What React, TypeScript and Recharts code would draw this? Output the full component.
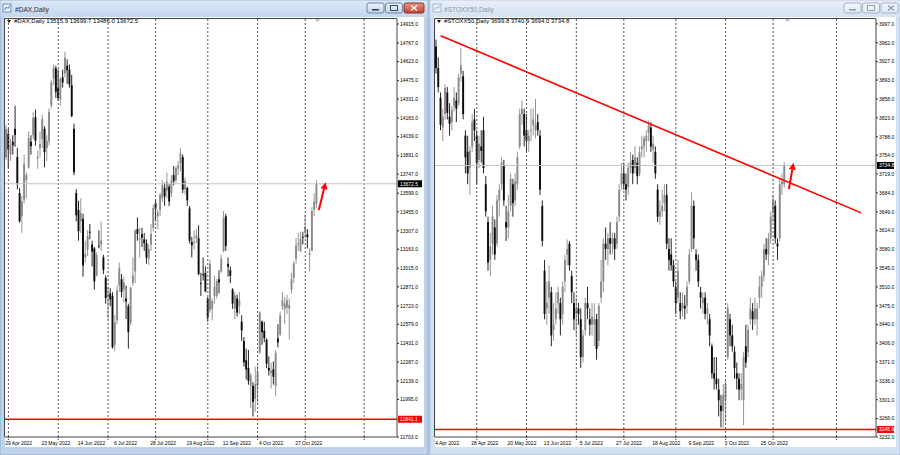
import React from 'react';
import { ComposedChart, Bar, XAxis, YAxis, ReferenceLine } from 'recharts';

const FONT = "'Liberation Sans', Arial, sans-serif";

// #DAX daily bars 29 Apr 2022 .. 8 Nov 2022, [open, high, low, close]
const daxBars: number[][] = [
  [13880, 14130, 13860, 14098],
  // May
  [14060, 14100, 13790, 13939], [13900, 14020, 13850, 13970], [14000, 14050, 13900, 13971], [14100, 14280, 13960, 14052],
  [13880, 13950, 13630, 13674], [13600, 13640, 13370, 13381], [13420, 13580, 13290, 13535], [13550, 13900, 13520, 13829],
  [13700, 13760, 13560, 13740], [13800, 14080, 13790, 14027], [14000, 14050, 13900, 13964], [14050, 14230, 14020, 14186],
  [14190, 14250, 13970, 14008], [13870, 13930, 13790, 13882], [13950, 14080, 13880, 13982], [14020, 14210, 13950, 14176],
  [14100, 14120, 13800, 13919], [13950, 14050, 13850, 14008], [14000, 14260, 13970, 14232], [14280, 14480, 14260, 14462],
  [14490, 14600, 14440, 14575], [14570, 14590, 14340, 14388],
  // Jun
  [14420, 14560, 14320, 14340], [14330, 14500, 14280, 14485], [14500, 14560, 14420, 14460], [14530, 14700, 14500, 14653],
  [14590, 14640, 14450, 14556], [14560, 14600, 14420, 14445], [14440, 14520, 14190, 14199], [14100, 14140, 13740, 13762],
  [13600, 13630, 13380, 13427], [13470, 13540, 13230, 13304], [13380, 13560, 13290, 13447], [13400, 13440, 12950, 13038],
  [13100, 13230, 13060, 13127], [13160, 13310, 13110, 13265], [13300, 13360, 13240, 13292], [13200, 13230, 13030, 13145],
  [13170, 13180, 12850, 12913], [12960, 13140, 12950, 13118], [13190, 13310, 13170, 13186], [13200, 13380, 13150, 13231],
  [13100, 13120, 12970, 13003], [12940, 12960, 12740, 12784],
  // Jul
  [12800, 12870, 12620, 12813], [12820, 12860, 12720, 12773], [12800, 12830, 12390, 12401], [12420, 12650, 12370, 12595],
  [12610, 12880, 12580, 12843], [12880, 13060, 12830, 13015], [12930, 12970, 12790, 12832], [12850, 12950, 12750, 12905],
  [12780, 12880, 12620, 12757], [12720, 12740, 12390, 12520], [12590, 12870, 12570, 12865], [12900, 13100, 12880, 12959],
  [12990, 13320, 12900, 13308], [13320, 13410, 13230, 13282], [13240, 13330, 13100, 13247], [13280, 13330, 13180, 13254],
  [13240, 13290, 13150, 13210], [13210, 13240, 13050, 13097], [13090, 13200, 13040, 13166], [13200, 13360, 13150, 13282],
  [13330, 13510, 13300, 13484],
  // Aug
  [13520, 13550, 13380, 13479], [13420, 13470, 13320, 13449], [13470, 13600, 13420, 13587], [13560, 13700, 13530, 13662],
  [13640, 13680, 13500, 13574], [13620, 13760, 13560, 13688], [13650, 13670, 13500, 13535], [13600, 13740, 13570, 13700],
  [13740, 13810, 13660, 13695], [13700, 13810, 13680, 13795], [13790, 13850, 13740, 13816], [13830, 13950, 13770, 13910],
  [13880, 13900, 13600, 13627], [13630, 13720, 13590, 13697], [13640, 13650, 13500, 13544], [13480, 13500, 13210, 13230],
  [13220, 13260, 13100, 13194], [13220, 13310, 13160, 13221], [13250, 13320, 13210, 13272], [13250, 13350, 12960, 12971],
  [12900, 12980, 12800, 12893], [12970, 13100, 12920, 12961], [12980, 13030, 12830, 12835],
  // Sep
  [12780, 12790, 12600, 12631], [12690, 13080, 12670, 13050], [12700, 12780, 12610, 12761], [12800, 12960, 12740, 12872],
  [12800, 12930, 12780, 12916], [12930, 13000, 12820, 12905], [12990, 13120, 12980, 13088], [13150, 13460, 13140, 13403],
  [13420, 13440, 13150, 13189], [13050, 13100, 12950, 13028], [13000, 13030, 12900, 12957], [12850, 12860, 12700, 12741],
  [12700, 12830, 12620, 12804], [12780, 12810, 12640, 12671], [12720, 12830, 12660, 12767], [12600, 12650, 12450, 12532],
  [12450, 12480, 12250, 12284], [12300, 12390, 12150, 12228], [12240, 12380, 12110, 12140], [12100, 12200, 11930, 12184],
  [12100, 12130, 11862, 11976], [12000, 12250, 11900, 12114],
  // Oct
  [12100, 12260, 11970, 12209], [12360, 12680, 12350, 12671], [12600, 12610, 12420, 12517], [12530, 12600, 12440, 12471],
  [12460, 12470, 12240, 12273], [12240, 12330, 12180, 12220], [12200, 12280, 12080, 12219], [12230, 12290, 12110, 12172],
  [12100, 12380, 12020, 12356], [12470, 12580, 12400, 12438], [12500, 12680, 12490, 12649], [12720, 12830, 12690, 12765],
  [12700, 12790, 12580, 12742], [12710, 12810, 12660, 12767], [12700, 12780, 12460, 12731], [12850, 12980, 12820, 12931],
  [12940, 13070, 12900, 13053], [13090, 13250, 13050, 13195], [13200, 13290, 13150, 13211], [13150, 13300, 13140, 13243],
  [13260, 13300, 13200, 13254],
  // Nov
  [13300, 13430, 13250, 13338], [13280, 13320, 13170, 13257], [13120, 13170, 12990, 13130], [13150, 13490, 13150, 13460],
  [13470, 13600, 13420, 13533], [13515.9, 13699.7, 13486.0, 13672.5],
];
const daxSlots = 173;
const daxDateLabels = ['29 Apr 2022', '23 May 2022', '14 Jun 2022', '6 Jul 2022', '28 Jul 2022', '19 Aug 2022', '12 Sep 2022', '4 Oct 2022', '27 Oct 2022'];
const daxSeparators = [1, 23, 45, 66, 89, 111, 132, 158];
const daxPriceTicks = [14915, 14767, 14623, 14475, 14331, 14183, 14039, 13891, 13747, 13599, 13455, 13307, 13163, 13015, 12871, 12723, 12579, 12431, 12287, 12139, 11995, 11703];
const daxDomain = [11703, 14954];
const daxLast = 13672.5;
const daxSupport = 11841.1;
const daxArrow = [{ x: 138, y: 13468 }, { x: 141, y: 13685 }];

// #STOXX50 daily bars 4 Apr 2022 .. 8 Nov 2022, [open, high, low, close]
const stoxxBars: number[][] = [
  // Apr
  [3955, 3968, 3905, 3915], [3915, 3935, 3870, 3880], [3860, 3870, 3800, 3810], [3805, 3840, 3780, 3825], [3830, 3885, 3820, 3878],
  [3870, 3880, 3820, 3832], [3825, 3850, 3790, 3812], [3815, 3845, 3800, 3838], [3845, 3880, 3835, 3860], [3855, 3870, 3815, 3840],
  [3850, 3905, 3845, 3898], [3905, 3952, 3890, 3920], [3900, 3910, 3820, 3830], [3790, 3800, 3720, 3750], [3760, 3790, 3700, 3720],
  [3730, 3770, 3680, 3762], [3770, 3830, 3760, 3815], [3820, 3840, 3780, 3800],
  // May
  [3790, 3800, 3700, 3740], [3745, 3790, 3730, 3775], [3770, 3800, 3740, 3762], [3800, 3825, 3720, 3730], [3700, 3715, 3640, 3650],
  [3630, 3640, 3540, 3555], [3560, 3610, 3530, 3585], [3590, 3660, 3570, 3640], [3620, 3635, 3560, 3570], [3590, 3680, 3585, 3670],
  [3670, 3700, 3640, 3690], [3700, 3750, 3690, 3740], [3735, 3745, 3660, 3670], [3630, 3660, 3595, 3620], [3620, 3680, 3600, 3650],
  [3660, 3720, 3650, 3710], [3700, 3710, 3640, 3665], [3670, 3720, 3660, 3705], [3700, 3760, 3690, 3750], [3770, 3840, 3765, 3830],
  [3830, 3855, 3810, 3840], [3830, 3840, 3770, 3790],
  // Jun
  [3800, 3830, 3760, 3780], [3780, 3800, 3760, 3790], [3800, 3840, 3780, 3800], [3810, 3840, 3790, 3820], [3800, 3858, 3785, 3810],
  [3815, 3830, 3790, 3800], [3790, 3800, 3680, 3690], [3660, 3670, 3585, 3595], [3540, 3560, 3450, 3460], [3470, 3520, 3440, 3480],
  [3490, 3550, 3460, 3520], [3500, 3510, 3400, 3420], [3430, 3480, 3410, 3440], [3450, 3500, 3440, 3470], [3480, 3510, 3460, 3500],
  [3480, 3490, 3420, 3450], [3460, 3520, 3440, 3510], [3520, 3570, 3500, 3560], [3570, 3598, 3550, 3580], [3590, 3595, 3540, 3550],
  [3530, 3540, 3480, 3500], [3480, 3500, 3430, 3450],
  // Jul
  [3460, 3490, 3420, 3470], [3470, 3480, 3440, 3460], [3450, 3470, 3360, 3380], [3380, 3430, 3370, 3420], [3430, 3490, 3420, 3480],
  [3480, 3510, 3450, 3470], [3450, 3470, 3420, 3440], [3440, 3480, 3420, 3455], [3440, 3480, 3400, 3450], [3450, 3460, 3375, 3395],
  [3410, 3480, 3400, 3475], [3490, 3560, 3480, 3520], [3520, 3600, 3500, 3590], [3590, 3620, 3560, 3580], [3580, 3610, 3550, 3600],
  [3600, 3630, 3570, 3590], [3590, 3610, 3570, 3600], [3600, 3610, 3560, 3580], [3590, 3640, 3580, 3630], [3640, 3700, 3630, 3690],
  [3700, 3740, 3690, 3720],
  // Aug
  [3720, 3740, 3690, 3700], [3700, 3720, 3670, 3690], [3695, 3740, 3680, 3730], [3730, 3760, 3720, 3740], [3745, 3755, 3700, 3720],
  [3730, 3770, 3720, 3750], [3740, 3750, 3700, 3715], [3720, 3770, 3715, 3760], [3765, 3790, 3750, 3770], [3770, 3790, 3750, 3785],
  [3780, 3800, 3760, 3790], [3795, 3818, 3780, 3810], [3805, 3815, 3760, 3770], [3765, 3790, 3740, 3775], [3760, 3770, 3710, 3720],
  [3690, 3700, 3630, 3640], [3640, 3670, 3625, 3650], [3650, 3690, 3640, 3660], [3665, 3700, 3650, 3680], [3680, 3700, 3580, 3590],
  [3580, 3600, 3540, 3560], [3570, 3600, 3540, 3550], [3550, 3560, 3510, 3520],
  // Sep
  [3510, 3520, 3460, 3480], [3490, 3560, 3480, 3540], [3480, 3500, 3450, 3465], [3470, 3500, 3455, 3480], [3475, 3495, 3450, 3470],
  [3475, 3520, 3460, 3510], [3520, 3580, 3515, 3570], [3580, 3685, 3575, 3660], [3660, 3670, 3580, 3600], [3570, 3580, 3540, 3560],
  [3560, 3570, 3510, 3520], [3500, 3510, 3470, 3490], [3480, 3500, 3460, 3490], [3490, 3500, 3450, 3460], [3460, 3480, 3440, 3470],
  [3450, 3460, 3400, 3420], [3400, 3405, 3340, 3350], [3350, 3380, 3320, 3340], [3340, 3380, 3320, 3330], [3320, 3340, 3270, 3300],
  [3290, 3310, 3250, 3280], [3280, 3330, 3249, 3310],
  // Oct
  [3300, 3340, 3260, 3330], [3380, 3480, 3375, 3470], [3450, 3460, 3400, 3420], [3420, 3440, 3390, 3400], [3390, 3400, 3340, 3360],
  [3350, 3370, 3320, 3340], [3340, 3350, 3300, 3320], [3320, 3350, 3300, 3330], [3300, 3390, 3254, 3380], [3400, 3440, 3360, 3370],
  [3390, 3440, 3380, 3430], [3450, 3490, 3440, 3470], [3465, 3480, 3430, 3450], [3450, 3490, 3440, 3470], [3450, 3480, 3420, 3470],
  [3490, 3530, 3470, 3510], [3510, 3540, 3490, 3530], [3530, 3590, 3520, 3580], [3580, 3600, 3560, 3570], [3570, 3610, 3550, 3600],
  [3600, 3650, 3590, 3640],
  // Nov
  [3650, 3680, 3630, 3670], [3660, 3670, 3590, 3600], [3590, 3600, 3560, 3585], [3600, 3710, 3595, 3700], [3700, 3720, 3680, 3705],
  [3699.8, 3740.9, 3694.0, 3734.8],
];
const stoxxSlots = 195;
const stoxxDateLabels = ['4 Apr 2022', '28 Apr 2022', '20 May 2022', '13 Jun 2022', '5 Jul 2022', '27 Jul 2022', '18 Aug 2022', '9 Sep 2022', '3 Oct 2022', '25 Oct 2022'];
const stoxxSeparators = [18, 40, 62, 83, 106, 128, 149, 177];
const stoxxPriceTicks = [3997, 3962, 3927, 3893, 3858, 3823, 3788, 3754, 3719, 3684, 3649, 3614, 3580, 3545, 3510, 3475, 3440, 3406, 3371, 3336, 3301, 3266, 3232];
const stoxxDomain = [3232, 4006];
const stoxxLast = 3734.8;
const stoxxSupport = 3245.9;
const stoxxTrend = [{ x: 2, y: 3975 }, { x: 188, y: 3647 }];
const stoxxArrow = [{ x: 156, y: 3691 }, { x: 158, y: 3740 }];

const LABEL_EVERY = 16;

const toRows = (bars: number[][], slots: number) =>
  Array.from({ length: slots }, (_, i) => {
    const b = bars[i];
    return b ? { i, o: b[0], h: b[1], l: b[2], c: b[3] } : { i };
  });

const Candle = (props: any) => {
  const { x, y, width, height, payload } = props;
  if (!payload || payload.h == null || !(height > 0)) return <g />;
  const { o, h, l, c } = payload;
  const k = height / (h - l);
  const cx = x + width / 2;
  const top = y + (h - Math.max(o, c)) * k;
  const bh = Math.max(Math.abs(o - c) * k, 0.8);
  const col = c >= o ? '#8a8a8a' : '#0c0c0c';
  return (
    <g>
      <line x1={cx} x2={cx} y1={y} y2={y + height} stroke={col} strokeWidth={0.9} />
      <rect x={cx - 0.95} y={top} width={1.9} height={bh} fill={col} />
    </g>
  );
};

const PriceTag = (props: any) => {
  const { viewBox, text, bg } = props;
  if (!viewBox) return null;
  const x = viewBox.x + viewBox.width + 1;
  const y = viewBox.y;
  return (
    <g>
      <rect x={x} y={y - 3.5} width={props.w} height={7} fill={bg} />
      <text x={x + 2} y={y + 2} fontSize={5} fontFamily={FONT} fill="#fff">{text}</text>
    </g>
  );
};

const Arrow = (p: any) => {
  const { x1, y1, x2, y2 } = p;
  const a = Math.atan2(y2 - y1, x2 - x1);
  const bx = x2 - 7 * Math.cos(a);
  const by = y2 - 7 * Math.sin(a);
  const nx = -Math.sin(a) * 3.5;
  const ny = Math.cos(a) * 3.5;
  return (
    <g>
      <line x1={x1} y1={y1} x2={bx} y2={by} stroke="#ff0000" strokeWidth={2} />
      <polygon points={`${x2},${y2} ${bx + nx},${by + ny} ${bx - nx},${by - ny}`} fill="#ff0000" />
    </g>
  );
};

const dateTick = (labels: string[], seps: number[]) => (p: any) => {
  const i = Number(p.payload.value);
  const label = i % LABEL_EVERY === 0 ? labels[i / LABEL_EVERY] : undefined;
  const sep = seps.includes(i);
  if (!label && !sep) return <g />;
  return (
    <g>
      {sep && <line x1={p.x} x2={p.x} y1={p.y} y2={p.y + 4} stroke="#333" strokeDasharray="1 1" />}
      {label && (
        <text x={p.x - 1} y={p.y + 8} fontSize={5} fontFamily={FONT} fill="#000">{label}</text>
      )}
    </g>
  );
};

type PanelProps = {
  bars: number[][];
  slots: number;
  labels: string[];
  seps: number[];
  ticks: number[];
  domain: number[];
  last: number;
  support: number;
  arrow: { x: number; y: number }[];
  trend?: { x: number; y: number }[];
  width: number;
  axisWidth: number;
  digits: number;
};

const Panel = (p: PanelProps) => {
  const rows = toRows(p.bars, p.slots);
  const tagW = p.axisWidth - 3;
  return (
    <ComposedChart width={p.width} height={447} data={rows} barCategoryGap={0} barGap={0}
      margin={{ top: 19, right: 0, bottom: 0, left: 5 }}>
      <XAxis dataKey="i" type="category" interval={0} height={10} tickSize={0} tickMargin={0}
        tickLine={false} axisLine={{ stroke: '#444' }} tick={dateTick(p.labels, p.seps)} />
      <YAxis orientation="right" type="number" domain={p.domain} allowDataOverflow ticks={p.ticks}
        interval={0} width={p.axisWidth} tickSize={2} tickMargin={1}
        axisLine={{ stroke: '#444' }} tickLine={{ stroke: '#333' }}
        tick={{ fontSize: 5, fill: '#000', fontFamily: FONT }}
        tickFormatter={(v: number) => v.toFixed(1)} />
      {p.seps.map((s) => (
        <ReferenceLine key={s} x={s} stroke="#555" strokeDasharray="2 2" />
      ))}
      <ReferenceLine y={p.last} stroke="#c4c4c4"
        label={<PriceTag text={p.last.toFixed(p.digits)} bg="#000" w={tagW} />} />
      <Bar dataKey={(d: any) => (d.h != null ? [d.l, d.h] : null)} shape={<Candle />} isAnimationActive={false} />
      <ReferenceLine y={p.support} stroke="#ff0000" strokeWidth={1.6}
        label={<PriceTag text={p.support.toFixed(1)} bg="#ff0000" w={tagW} />} />
      {p.trend && (
        <ReferenceLine segment={p.trend} stroke="#ff0000" strokeWidth={1.6} ifOverflow="visible" />
      )}
      <ReferenceLine segment={p.arrow} ifOverflow="visible" shape={Arrow} />
    </ComposedChart>
  );
};

const TitleButtons = ({ x, active }: { x: number; active: boolean }) => {
  const fill = active ? 'url(#btnA)' : 'url(#btnI)';
  const glyph = active ? '#2b3e5b' : '#8a9ab0';
  return (
    <g>
      <rect x={x} y={3} width={17} height={10} rx={2} fill={fill} stroke={active ? '#6f86a8' : '#a3b3c8'} />
      <rect x={x + 5} y={9} width={7} height={1.5} fill={glyph} />
      <rect x={x + 18.5} y={3} width={17} height={10} rx={2} fill={fill} stroke={active ? '#6f86a8' : '#a3b3c8'} />
      <rect x={x + 23.5} y={5.5} width={7} height={5} fill="none" stroke={glyph} strokeWidth={0.9} />
      <rect x={x + 37} y={3} width={active ? 20 : 17} height={10} rx={2} fill={active ? 'url(#btnClose)' : fill}
        stroke={active ? '#8a3023' : '#a3b3c8'} />
      <path d={`M${x + 44} 5.5 L${x + 50} 10.5 M${x + 50} 5.5 L${x + 44} 10.5`}
        stroke={active ? '#fff' : glyph} strokeWidth={1.3} />
    </g>
  );
};

const Chrome = () => (
  <svg width={900} height={455} style={{ position: 'absolute', left: 0, top: 0 }}>
    <defs>
      <linearGradient id="titleA" x1="0" y1="0" x2="0" y2="1">
        <stop offset="0%" stopColor="#dce8f6" />
        <stop offset="100%" stopColor="#c3d6ee" />
      </linearGradient>
      <linearGradient id="titleI" x1="0" y1="0" x2="0" y2="1">
        <stop offset="0%" stopColor="#e8eff8" />
        <stop offset="100%" stopColor="#d6e2f1" />
      </linearGradient>
      <linearGradient id="btnA" x1="0" y1="0" x2="0" y2="1">
        <stop offset="0%" stopColor="#eef3fa" />
        <stop offset="100%" stopColor="#c2d2e8" />
      </linearGradient>
      <linearGradient id="btnI" x1="0" y1="0" x2="0" y2="1">
        <stop offset="0%" stopColor="#f4f7fb" />
        <stop offset="100%" stopColor="#dfe7f1" />
      </linearGradient>
      <linearGradient id="btnClose" x1="0" y1="0" x2="0" y2="1">
        <stop offset="0%" stopColor="#e4998c" />
        <stop offset="100%" stopColor="#c2412f" />
      </linearGradient>
    </defs>
    <rect x={0} y={0} width={900} height={455} fill="#c5d8ee" />
    <rect x={0} y={0} width={428} height={455} fill="#bfd3ec" stroke="#8ea7c8" />
    <rect x={430} y={0} width={470} height={455} fill="#d3e1f2" stroke="#a7bad3" />
    <rect x={0.5} y={0.5} width={427} height={17} fill="url(#titleA)" />
    <rect x={430.5} y={0.5} width={469} height={17} fill="url(#titleI)" />
    <rect x={5} y={17} width={419} height={430} fill="#fff" />
    <rect x={435} y={17} width={461} height={430} fill="#fff" />
    <line x1={4.5} y1={18.5} x2={397} y2={18.5} stroke="#444" />
    <line x1={4.5} y1={18.5} x2={4.5} y2={437} stroke="#444" />
    <line x1={434.5} y1={18.5} x2={876} y2={18.5} stroke="#444" />
    <line x1={434.5} y1={18.5} x2={434.5} y2={437} stroke="#444" />

    <rect x={3} y={4} width={8} height={8} fill="#e9f1fb" stroke="#4f79b0" strokeWidth={0.8} />
    <path d="M4.5 10 L6.5 7 L8 8.5 L10 5.5" stroke="#2f6bb5" strokeWidth={0.9} fill="none" />
    <text x={15} y={11.5} fontSize={6.6} fontFamily={FONT} fill="#1e2f48">#DAX,Daily</text>
    <TitleButtons x={367} active />

    <rect x={433} y={4} width={8} height={8} fill="#f0f4f9" stroke="#8fa6c6" strokeWidth={0.8} />
    <path d="M434.5 10 L436.5 7 L438 8.5 L440 5.5" stroke="#8fa6c6" strokeWidth={0.9} fill="none" />
    <text x={444} y={11.5} fontSize={6.6} fontFamily={FONT} fill="#8796ab">#STOXX50,Daily</text>
    <TitleButtons x={844} active={false} />

    <polygon points="7,20 11,20 9,23" fill="#000" />
    <text x={14} y={23.3} fontSize={6} fontFamily={FONT} fill="#000">#DAX,Daily  13515.9 13699.7 13486.0 13672.5</text>
    <polygon points="315,19.5 320,19.5 317.5,21.5" fill="#9a9a9a" />

    <polygon points="437,20 441,20 439,23" fill="#000" />
    <text x={444} y={23.3} fontSize={6} fontFamily={FONT} fill="#000">#STOXX50,Daily  3699.8 3740.9 3694.0 3734.8</text>
    <polygon points="785,19.5 790,19.5 787.5,21.5" fill="#9a9a9a" />
  </svg>
);

export default function App() {
  return (
    <div style={{ position: 'absolute', left: 0, top: 0, width: 900, height: 455, overflow: 'hidden' }}>
      <Chrome />
      <div style={{ position: 'absolute', left: 0, top: 0 }}>
        <Panel bars={daxBars} slots={daxSlots} labels={daxDateLabels} seps={daxSeparators}
          ticks={daxPriceTicks} domain={daxDomain} last={daxLast} support={daxSupport}
          arrow={daxArrow} width={424} axisWidth={27} digits={1} />
      </div>
      <div style={{ position: 'absolute', left: 430, top: 0 }}>
        <Panel bars={stoxxBars} slots={stoxxSlots} labels={stoxxDateLabels} seps={stoxxSeparators}
          ticks={stoxxPriceTicks} domain={stoxxDomain} last={stoxxLast} support={stoxxSupport}
          arrow={stoxxArrow} trend={stoxxTrend} width={466} axisWidth={20} digits={1} />
      </div>
    </div>
  );
}
